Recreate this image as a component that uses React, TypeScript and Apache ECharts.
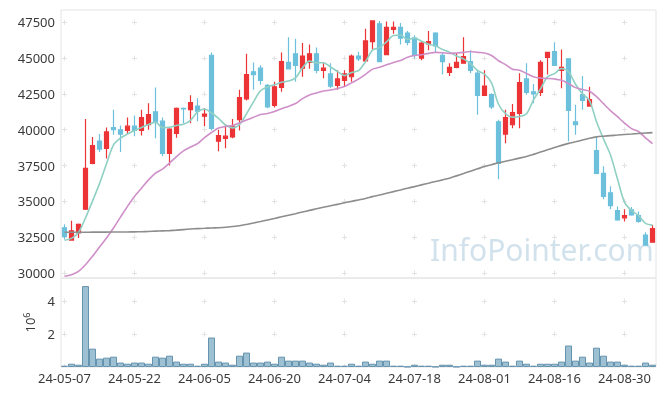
import React, { useEffect, useRef } from "react";
import * as echarts from "echarts";

const dates = [
  "24-05-07","24-05-08","24-05-09","24-05-10","24-05-13","24-05-14","24-05-16","24-05-17","24-05-20","24-05-21",
  "24-05-22","24-05-23","24-05-24","24-05-27","24-05-28","24-05-29","24-05-30","24-05-31","24-06-03","24-06-04",
  "24-06-05","24-06-07","24-06-10","24-06-11","24-06-12","24-06-13","24-06-14","24-06-17","24-06-18","24-06-19",
  "24-06-20","24-06-21","24-06-24","24-06-25","24-06-26","24-06-27","24-06-28","24-07-01","24-07-02","24-07-03",
  "24-07-04","24-07-05","24-07-08","24-07-09","24-07-10","24-07-11","24-07-12","24-07-15","24-07-16","24-07-17",
  "24-07-18","24-07-19","24-07-22","24-07-23","24-07-24","24-07-25","24-07-26","24-07-29","24-07-30","24-07-31",
  "24-08-01","24-08-02","24-08-05","24-08-06","24-08-07","24-08-08","24-08-09","24-08-12","24-08-13","24-08-14",
  "24-08-16","24-08-19","24-08-20","24-08-21","24-08-22","24-08-23","24-08-26","24-08-27","24-08-28","24-08-29",
  "24-08-30","24-09-02","24-09-03","24-09-04","24-09-05",
];

const opens = [
  33150,32300,32800,34450,37650,39200,38700,40150,40000,39950,
  40250,39950,40350,41250,40600,38350,39750,41500,41400,41650,
  40950,45200,39200,39400,39500,40700,42150,44050,44300,43100,
  41700,42950,44700,45300,44300,44700,45300,44150,43900,43100,
  43450,43700,45150,44800,46150,47400,45250,47000,47150,46750,
  46400,45000,46000,46750,45200,44000,44350,44650,44750,43950,
  42400,42450,40550,39700,40350,41150,43550,42650,42600,45050,
  45450,44150,44950,40550,42450,41650,38550,36950,35600,34350,
  33850,34400,34000,32650,32150,
];
const closes = [
  32550,32950,33400,37300,38900,38650,39850,40000,39700,40250,
  39950,40850,41050,40550,38350,40050,41500,41450,41900,41300,
  41100,40100,39600,39550,40250,42250,43850,43850,43450,41600,
  43000,44750,44250,44500,45150,45300,44150,44300,43050,43550,
  43900,45150,44950,46200,47600,44750,47150,47150,46400,46100,
  45200,46050,46150,45850,44750,44350,44700,45100,44150,42400,
  43050,41600,37650,40850,41200,43300,42600,42500,44700,45400,
  44500,44350,41350,40350,42050,42100,36950,35350,34700,33700,
  34000,34050,33600,31950,33100,
];
const lows = [
  32350,32250,32450,34400,37600,38450,38000,39650,38450,39700,
  39550,39600,40000,39400,38150,37500,39450,40450,40450,40600,
  40250,39950,38500,38700,39400,39950,42050,42800,43150,41500,
  41550,42650,44250,43350,43700,44250,43950,43600,42900,42800,
  43050,43350,44800,44750,45600,44750,45200,46700,45950,45900,
  45000,44850,45550,45350,43850,43750,44300,44600,43950,41050,
  42350,41450,36550,39050,40100,40100,42450,41850,42350,43850,
  44450,42900,39200,39650,41400,41600,36900,35150,34450,33650,
  33600,34000,33500,31900,32150,
];
const highs = [
  33400,33650,33450,40750,39500,39700,40150,41400,40300,40850,
  41000,41400,41850,42950,40850,40100,41550,41550,42400,42200,
  41500,45400,40000,40400,40750,42800,45300,44700,44500,43200,
  43350,45400,46450,46350,46050,45950,45750,44650,44650,44150,
  44150,45250,45450,47050,47650,47600,47550,47550,47450,46900,
  46600,46150,46900,46800,45350,44650,45350,46450,45550,44150,
  44150,42550,40700,41400,41800,43950,44650,43200,44850,45450,
  46100,45600,45000,41750,43750,43000,39550,37450,36050,34650,
  34450,34600,34300,32850,33350,
];

const ma5 = [
  32280,32420,32830,33850,35020,36240,37620,38940,39420,39700,
  39950,40160,40370,40530,40150,40170,40300,40380,40650,41240,
  41450,41170,40800,40330,40130,40370,41110,41950,42720,42990,
  43140,43320,43400,43620,44330,44790,44670,44680,44380,44060,
  43780,43990,44120,44750,45560,45730,46130,46580,46610,46310,
  46400,46180,45970,45860,45600,45420,45150,44950,44620,44140,
  43880,43270,41780,41120,40880,40930,41120,42080,42850,43690,
  43920,44280,44050,43180,42510,42040,40560,39360,38230,36560,
  34950,34360,34010,33460,33340,
];
const ma20 = [
  29770,29880,30110,30580,31160,31810,32440,33140,33900,34650,
  35340,35920,36500,36970,37250,37670,38130,38520,38800,39030,
  39450,39810,40120,40230,40300,40480,40680,40870,41060,41130,
  41280,41470,41630,41830,42170,42430,42570,42710,42770,42880,
  43020,43270,43540,43870,44230,44360,44530,44690,44840,45060,
  45180,45240,45330,45400,45380,45330,45360,45400,45460,45400,
  45360,45180,44820,44550,44230,44160,43930,43700,43610,43580,
  43540,43450,43220,42940,42810,42690,42310,41820,41340,40910,
  40460,40080,39880,39430,39030,
];
const ma120 = [
  32840,32840,32845,32845,32850,32850,32855,32860,32860,32865,
  32870,32880,32900,32920,32940,32960,32990,33030,33070,33100,
  33120,33140,33160,33190,33240,33300,33390,33490,33590,33700,
  33810,33920,34030,34140,34260,34370,34480,34590,34700,34790,
  34900,35000,35100,35200,35330,35440,35560,35680,35800,35920,
  36030,36150,36270,36390,36500,36620,36780,36940,37110,37270,
  37430,37560,37690,37800,37910,38020,38130,38280,38440,38600,
  38760,38910,39050,39160,39280,39400,39500,39550,39590,39630,
  39670,39700,39740,39770,39800,
];

// volume in millions of shares (axis unit 10^6)
const volumes = [
  0.08,0.20,0.14,4.94,1.12,0.51,0.57,0.63,0.27,0.20,
  0.27,0.27,0.20,0.63,0.57,0.69,0.33,0.20,0.20,0.08,
  0.20,1.80,0.33,0.27,0.14,0.69,0.88,0.27,0.27,0.33,
  0.20,0.63,0.39,0.39,0.39,0.27,0.20,0.14,0.27,0.08,
  0.08,0.20,0.08,0.33,0.20,0.39,0.39,0.08,0.08,0.02,
  0.14,0.08,0.08,0.02,0.14,0.14,0.02,0.08,0.08,0.39,
  0.14,0.14,0.51,0.33,0.08,0.39,0.20,0.08,0.20,0.20,
  0.20,0.33,1.31,0.39,0.63,0.27,1.18,0.69,0.33,0.33,
  0.14,0.08,0.08,0.27,0.14,
];

const PRICE_MIN = 29650;
const PRICE_MAX = 48360;
const PRICE_STEP = 2500;
const VOL_STEP = 2;
const LABEL_EVERY = 10;
const WATERMARK = "InfoPointer.com";
const VOL_UNIT_NAME = "10{sup|6}";

const WIDTH = 665;
const HEIGHT = 396;
const GRID_LEFT = 61;
const GRID_RIGHT = 9;
const TOP1 = 10;
const H1 = 268;
const TOP2 = 278;
const H2 = 89;
const ARM = 5;
const FONT = '"Noto Sans", "DejaVu Sans", sans-serif';
const CROSS_COLOR = "#e2e2e2";

function mod(a: number, p: number) {
  return ((a % p) + p) % p;
}

export default function App() {
  const ref = useRef<HTMLDivElement>(null);

  useEffect(() => {
    if (!ref.current) return;
    document.body.style.margin = "0";
    const chart = echarts.init(ref.current, undefined, { renderer: "svg" });

    const n = dates.length;
    const bandW = (WIDTH - GRID_LEFT - GRID_RIGHT) / n;
    const xPeriod = bandW * LABEL_EVERY;
    const hStart = bandW / 2 - ARM / 2;
    const hOffset = mod(-hStart, xPeriod);

    const pRange = PRICE_MAX - PRICE_MIN;
    const pPeriod = (PRICE_STEP / pRange) * H1;
    const pTopTick = Math.floor(PRICE_MAX / PRICE_STEP) * PRICE_STEP;
    const pStart = ((PRICE_MAX - pTopTick) / pRange) * H1 - ARM / 2;
    const pOffset = mod(-pStart, pPeriod);

    const volMax = Math.max(...volumes) * 1.1;
    const vPeriod = (VOL_STEP / volMax) * H2;
    const vTopTick = Math.floor(volMax / VOL_STEP) * VOL_STEP;
    const vStart = ((volMax - vTopTick) / volMax) * H2 - ARM / 2;
    const vOffset = mod(-vStart, vPeriod);

    const candleData = dates.map((_, i) => [opens[i], closes[i], lows[i], highs[i]]);

    const labelStyle = { color: "#3a3a3a", fontSize: 13, fontFamily: FONT };

    chart.setOption({
      animation: false,
      textStyle: { fontFamily: FONT },
      grid: [
        { left: GRID_LEFT, right: GRID_RIGHT, top: TOP1, height: H1, show: true, borderColor: "#e4e4e4", borderWidth: 1, backgroundColor: "transparent" },
        { left: GRID_LEFT, right: GRID_RIGHT, top: TOP2, height: H2, show: true, borderColor: "#e4e4e4", borderWidth: 1, backgroundColor: "transparent" },
      ],
      graphic: [
        {
          type: "text",
          left: 430,
          top: 234,
          z: 0,
          silent: true,
          style: {
            text: WATERMARK,
            fontSize: 30,
            fontFamily: FONT,
            fill: "rgba(165,198,218,0.5)",
          },
        },
      ],
      xAxis: [
        {
          type: "category",
          gridIndex: 0,
          data: dates,
          boundaryGap: true,
          axisLine: { show: false },
          axisTick: { show: false },
          axisLabel: { show: false },
          splitLine: {
            show: true,
            interval: LABEL_EVERY - 1,
            alignWithLabel: true,
            lineStyle: { color: CROSS_COLOR, width: 1, type: [ARM, pPeriod - ARM], dashOffset: pOffset },
          },
        },
        {
          type: "category",
          gridIndex: 1,
          data: dates,
          boundaryGap: true,
          axisLine: { show: false },
          axisTick: { show: false },
          axisLabel: { ...labelStyle, interval: LABEL_EVERY - 1, margin: 4 },
          splitLine: {
            show: true,
            interval: LABEL_EVERY - 1,
            alignWithLabel: true,
            lineStyle: { color: CROSS_COLOR, width: 1, type: [ARM, vPeriod - ARM], dashOffset: vOffset },
          },
        },
      ],
      yAxis: [
        {
          type: "value",
          gridIndex: 0,
          min: PRICE_MIN,
          max: PRICE_MAX,
          minInterval: PRICE_STEP,
          maxInterval: PRICE_STEP,
          scale: true,
          axisLine: { show: false },
          axisTick: { show: false },
          axisLabel: {
            ...labelStyle,
            margin: 6,
            showMinLabel: false,
            showMaxLabel: false,
            formatter: (v: number) => String(v),
          },
          splitLine: {
            show: true,
            showMinLine: false,
            showMaxLine: false,
            lineStyle: { color: CROSS_COLOR, width: 1, type: [ARM, xPeriod - ARM], dashOffset: hOffset },
          },
        },
        {
          type: "value",
          gridIndex: 1,
          min: 0,
          max: volMax,
          minInterval: VOL_STEP,
          maxInterval: VOL_STEP,
          axisLine: { show: false },
          axisTick: { show: false },
          axisLabel: {
            ...labelStyle,
            margin: 6,
            showMinLabel: false,
            showMaxLabel: false,
            formatter: (v: number) => String(v),
          },
          name: VOL_UNIT_NAME,
          nameLocation: "middle",
          nameRotate: 90,
          nameGap: 21,
          nameTextStyle: {
            color: "#3a3a3a",
            fontSize: 13,
            fontFamily: FONT,
            rich: {
              sup: { fontSize: 9, color: "#3a3a3a", fontFamily: FONT, padding: [0, 0, 7, 0] },
            },
          },
          splitLine: {
            show: true,
            showMinLine: false,
            showMaxLine: false,
            lineStyle: { color: CROSS_COLOR, width: 1, type: [ARM, xPeriod - ARM], dashOffset: hOffset },
          },
        },
      ],
      series: [
        {
          type: "candlestick",
          xAxisIndex: 0,
          yAxisIndex: 0,
          data: candleData,
          barWidth: 5,
          itemStyle: {
            color: "#ec3437",
            color0: "#6cc0dc",
            borderColor: "#ec3437",
            borderColor0: "#6cc0dc",
            borderWidth: 1.2,
          },
        },
        {
          type: "line",
          name: "MA5",
          xAxisIndex: 0,
          yAxisIndex: 0,
          data: ma5,
          symbol: "none",
          smooth: 0.3,
          lineStyle: { color: "#8fd0c3", width: 1.6 },
        },
        {
          type: "line",
          name: "MA20",
          xAxisIndex: 0,
          yAxisIndex: 0,
          data: ma20,
          symbol: "none",
          smooth: 0.3,
          lineStyle: { color: "#cf8fc8", width: 1.6 },
        },
        {
          type: "line",
          name: "MA120",
          xAxisIndex: 0,
          yAxisIndex: 0,
          data: ma120,
          symbol: "none",
          smooth: 0.3,
          lineStyle: { color: "#8d8d8d", width: 1.6 },
        },
        {
          type: "bar",
          xAxisIndex: 1,
          yAxisIndex: 1,
          data: volumes,
          barCategoryGap: "0%",
          itemStyle: { color: "#9dc1d2", borderColor: "#6693ae", borderWidth: 1 },
        },
      ],
    });

    return () => chart.dispose();
  }, []);

  return (
    <div
      ref={ref}
      style={{ position: "fixed", left: 0, top: 0, width: WIDTH, height: HEIGHT }}
    />
  );
}
